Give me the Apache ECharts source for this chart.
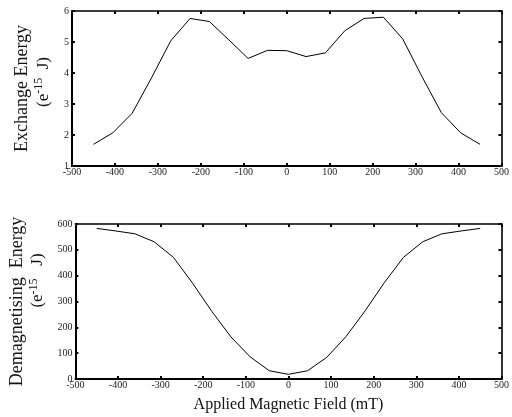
<!DOCTYPE html>
<html>
<head>
<meta charset="utf-8">
<script src="https://cdn.jsdelivr.net/npm/echarts@6/dist/echarts.min.js"></script>
<style>
  html, body { margin: 0; padding: 0; background: #fff; }
  #chart { width: 512px; height: 417px; }
</style>
</head>
<body>
<div id="chart"></div>
<script>
// applied field (mT)
const field = [-450, -405, -360, -315, -270, -225, -180, -135, -90, -45, 0, 45, 90, 135, 180, 225, 270, 315, 360, 405, 450];
// exchange energy (e-15 J)
const exchange = [1.70, 2.07, 2.70, 3.84, 5.04, 5.76, 5.66, 5.07, 4.47, 4.73, 4.72, 4.53, 4.65, 5.36, 5.76, 5.80, 5.10, 3.88, 2.72, 2.07, 1.70];
// demagnetising energy (e-15 J)
const demag = [583, 573, 562, 531, 471, 371, 262, 163, 86, 32, 18, 32, 84, 164, 264, 373, 471, 531, 562, 573, 583];

const font = 'Liberation Serif';
const myChart = echarts.init(document.getElementById('chart'));

const pairs = (ys) => field.map((x, i) => [x, ys[i]]);

function xAx(grid, pos, showLabel, extra) {
  return Object.assign({
    type: 'value', gridIndex: grid, position: pos,
    min: -500, max: 500, interval: 100,
    axisLine: { show: true, onZero: false, lineStyle: { color: '#000', width: pos === 'top' ? 1.5 : 2 } },
    axisTick: { show: true, inside: true, length: 3, lineStyle: { color: '#000', width: 2 } },
    axisLabel: { show: showLabel, margin: 1, fontFamily: font, fontSize: 10, color: '#222' },
    splitLine: { show: false }
  }, extra || {});
}

function yAx(grid, pos, showLabel, min, max, interval, extra) {
  return Object.assign({
    type: 'value', gridIndex: grid, position: pos,
    min: min, max: max, interval: interval,
    axisLine: { show: true, onZero: false, lineStyle: { color: pos === 'right' ? '#333' : '#000', width: 2 } },
    axisTick: { show: true, inside: true, length: 3, lineStyle: { color: '#000', width: 2 } },
    axisLabel: { show: showLabel, margin: 3, fontFamily: font, fontSize: 10, color: '#222', padding: [0, 0, 4, 0] },
    splitLine: { show: false }
  }, extra || {});
}

// unit line sits off-centre in the original, so lead it with some padding
function nameRich(lead) {
  return {
    a: { fontFamily: font, fontSize: 18, color: '#111', lineHeight: 21 },
    p: { fontFamily: font, fontSize: 17, color: '#111', lineHeight: 21, padding: [0, 0, 0, lead] },
    b: { fontFamily: font, fontSize: 17, color: '#111', lineHeight: 21 },
    s: { fontFamily: font, fontSize: 12, color: '#111', lineHeight: 21, verticalAlign: 'top' }
  };
}

const option = {
  animation: false,
  grid: [
    { left: 72, width: 431, top: 11, height: 155 },
    { left: 72, width: 431, top: 224, height: 155 }
  ],
  xAxis: [
    xAx(0, 'bottom', true),
    xAx(0, 'top', false),
    xAx(1, 'bottom', true, {
      name: 'Applied Magnetic Field (mT)', nameLocation: 'middle', nameGap: 18,
      nameTextStyle: { fontFamily: font, fontSize: 16, color: '#111' }
    }),
    xAx(1, 'top', false)
  ],
  yAxis: [
    yAx(0, 'left', true, 1, 6, 1, {
      name: '{a|Exchange Energy}\n{p|(e}{s|-15}{b|  J)}', nameLocation: 'middle', nameGap: 18, nameRotate: 90,
      nameTextStyle: { rich: nameRich(13), align: 'center' }
    }),
    yAx(0, 'right', false, 1, 6, 1),
    yAx(1, 'left', true, 0, 600, 100, {
      name: '{a|Demagnetising  Energy}\n{p|(e}{s|-15}{b|   J)}', nameLocation: 'middle', nameGap: 18, nameRotate: 90,
      nameTextStyle: { rich: nameRich(42), align: 'center' }
    }),
    yAx(1, 'right', false, 0, 600, 100)
  ],
  series: [
    {
      type: 'line', xAxisIndex: 0, yAxisIndex: 0, data: pairs(exchange),
      showSymbol: false, lineStyle: { color: '#000', width: 1 }
    },
    {
      type: 'line', xAxisIndex: 2, yAxisIndex: 2, data: pairs(demag),
      showSymbol: false, lineStyle: { color: '#000', width: 1 }
    }
  ]
};

myChart.setOption(option);
</script>
</body>
</html>
